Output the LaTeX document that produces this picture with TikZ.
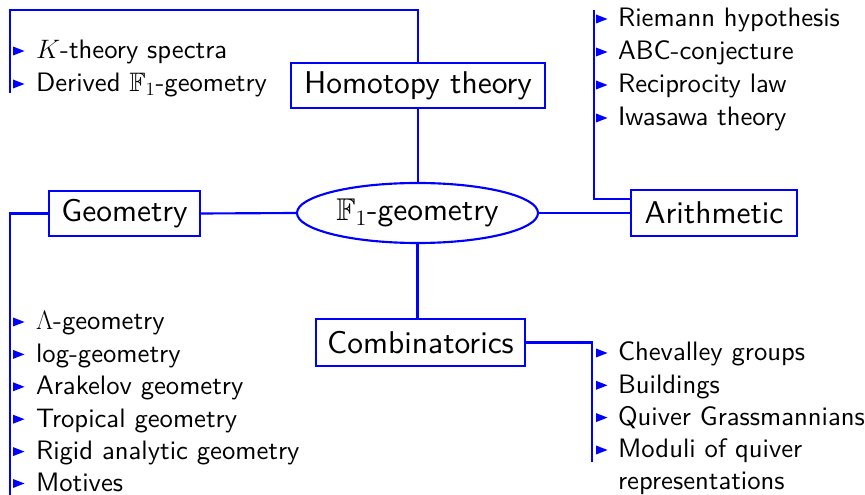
\documentclass[tikz,border=0pt]{standalone}
\usepackage{fix-cm}
\usepackage{amssymb}
\usepackage{fontspec}
\setsansfont{lmsans10-regular.otf}[BoldFont=lmsans10-bold.otf, ItalicFont=lmsans10-oblique.otf]
\usetikzlibrary{shapes.geometric}
\definecolor{lb}{RGB}{0,0,255}
\begin{document}
\begin{tikzpicture}[x=0.75pt,y=-0.75pt, line width=1.6pt,
  every node/.style={font=\sffamily\fontsize{20}{24.5}\selectfont},
  big/.style={font=\sffamily\fontsize{23.6}{28.5}\selectfont},
  box/.style={draw=lb, rectangle, inner sep=0pt, minimum height=33.75pt, big},
  itm/.style={anchor=base west, inner sep=0pt},
  link/.style={draw=lb}]
\useasboundingbox (0,0) rectangle (865,495);
% main nodes
\node[box, minimum width=190.5pt] (homo) at (418,85.5) {Homotopy theory};
\node[draw=lb, ellipse, inner sep=0pt, minimum width=180.75pt, minimum height=45pt, big] (f1) at (417.5,213) {$\mathbb{F}_1$-geometry};
\node[box, minimum width=113.25pt] (geo) at (124.5,213.5) {Geometry};
\node[box, minimum width=124.5pt, minimum height=34.5pt] (ari) at (714,213) {Arithmetic};
\node[box, minimum width=156.75pt, minimum height=35.25pt] (comb) at (420.5,342.5) {Combinatorics};
% free ends
\coordinate (tl) at (10,10);
\coordinate (tlend) at (10,93);
\coordinate (tr) at (594,10);
\coordinate (bl) at (10,495);
\coordinate (br) at (592,462);
% connectors
\draw[link] (homo.south) -- (homo.south |- f1.north);
\draw[link] (geo.east) -- (f1.west);
\draw[link] (f1.east) -- (ari.west);
\draw[link] (f1.south) -- (f1.south |- comb.north);
\draw[link] (homo.north) |- (tl) -- (tlend);
\draw[link] (geo.west) -| (bl);
\draw[link] ([yshift=10.5pt]ari.west) -| (tr);
\draw[link] (comb.east) -| (br);
% item lists
\foreach \yb/\t [count=\i] in {59/{$K$-theory spectra}, 92/{Derived $\mathbb{F}_1$-geometry}} {
  \node[itm] (h\i) at (35,\yb) {\t};
  \fill[lb] (13,\yb-12.5) -- (24.5,\yb-8) -- (13,\yb-3.5) -- cycle;
}
\foreach \yb/\t [count=\i] in {27/{Riemann hypothesis}, 60/{ABC-conjecture}, 93/{Reciprocity law}, 126/{Iwasawa theory}} {
  \node[itm] (a\i) at (617,\yb) {\t};
  \fill[lb] (596,\yb-12.5) -- (607.5,\yb-8) -- (596,\yb-3.5) -- cycle;
}
\foreach \yb/\t [count=\i] in {330/{$\Lambda$-geometry}, 362.4/{log-geometry}, 394.8/{Arakelov geometry}, 427.2/{Tropical geometry}, 459.6/{Rigid analytic geometry}, 491.5/{Motives}} {
  \node[itm] (g\i) at (35,\yb) {\t};
  \fill[lb] (13,\yb-12.5) -- (24.5,\yb-8) -- (13,\yb-3.5) -- cycle;
}
\foreach \yb/\t [count=\i] in {361/{Chevalley groups}, 393.3/{Buildings}, 425.6/{Quiver Grassmannians}, 458/{Moduli of quiver}} {
  \node[itm] (c\i) at (617,\yb) {\t};
  \fill[lb] (596,\yb-12.5) -- (607.5,\yb-8) -- (596,\yb-3.5) -- cycle;
}
\node[itm] (c5) at (617,490) {representations};
\end{tikzpicture}
\end{document}
